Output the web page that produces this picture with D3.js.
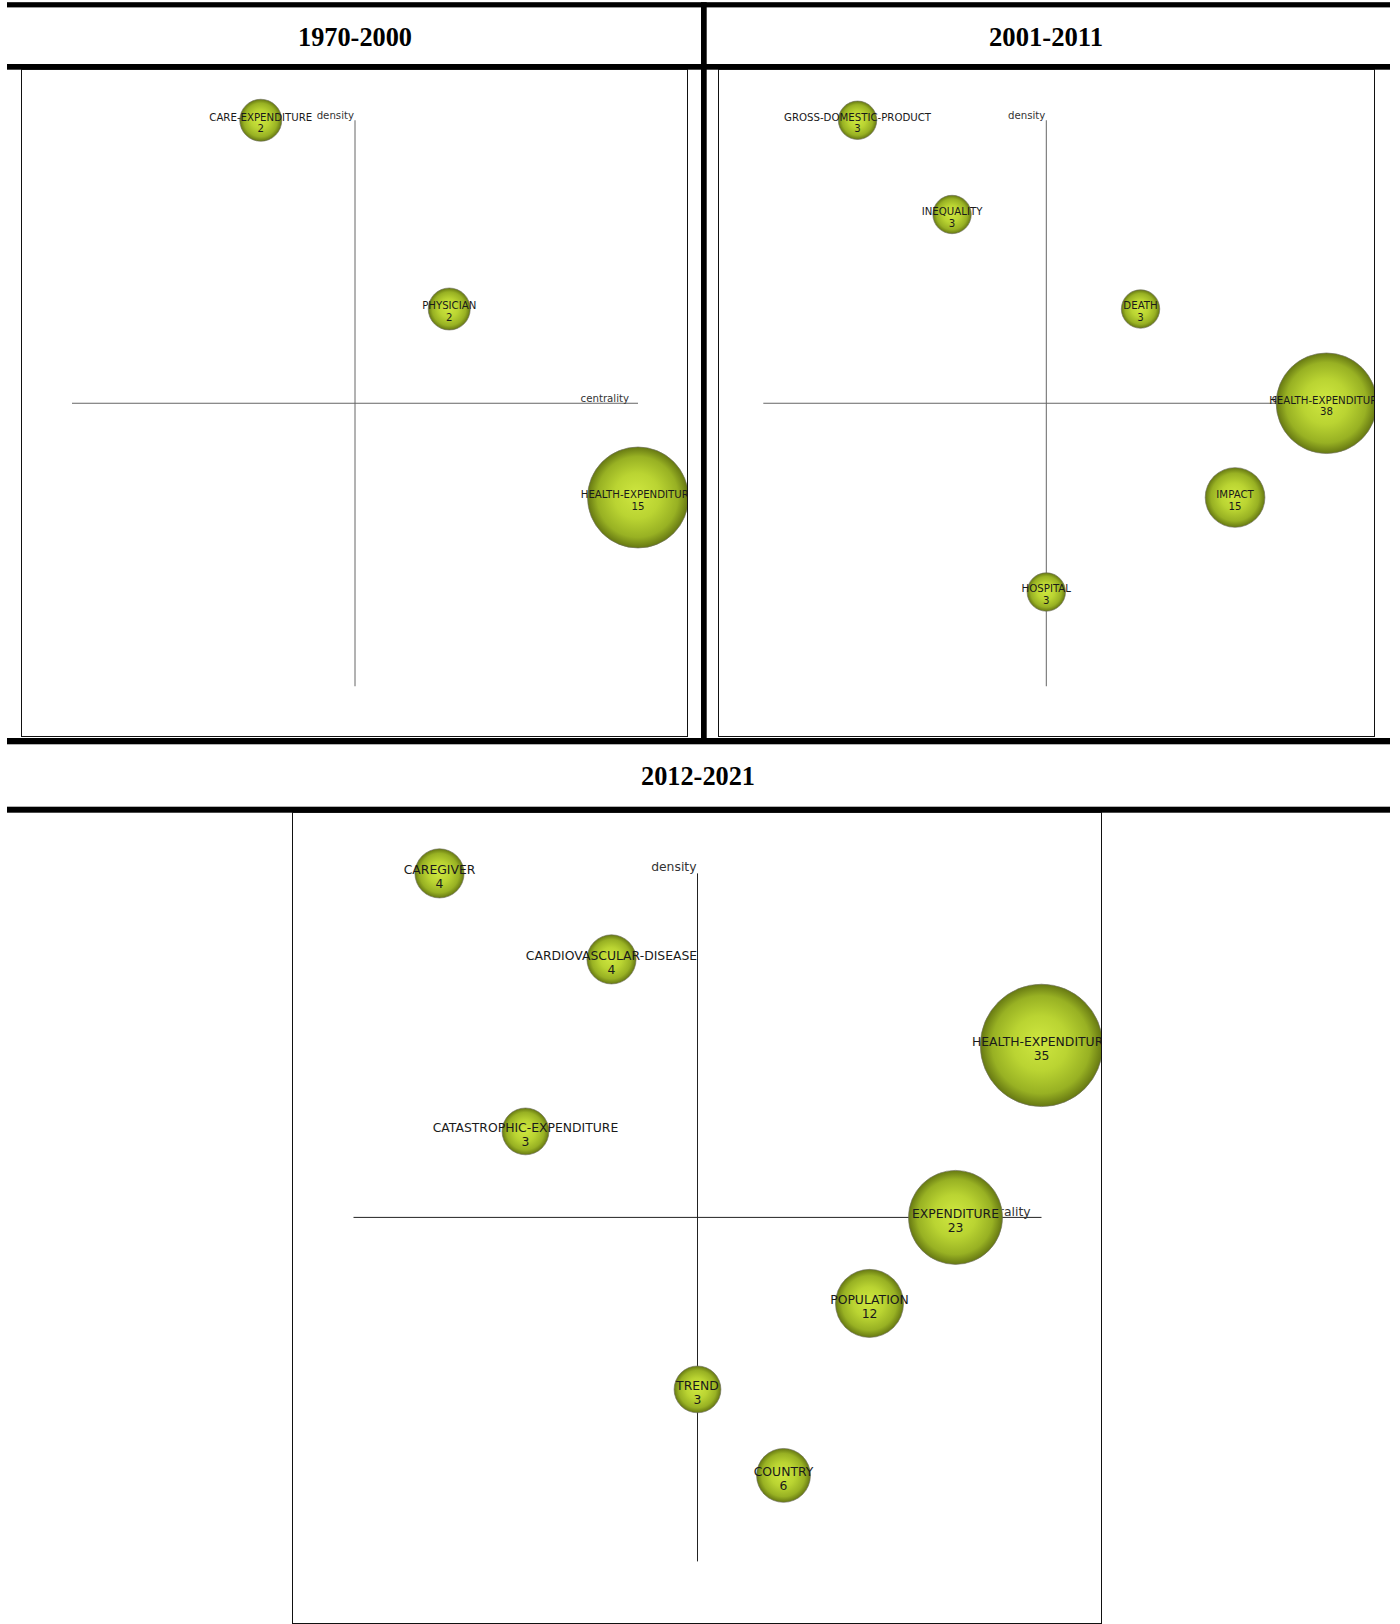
<!DOCTYPE html>
<html><head><meta charset="utf-8">
<script src="https://cdn.jsdelivr.net/npm/d3@7/dist/d3.min.js"></script>
<style>body{margin:0;background:#fff}</style>
</head><body><svg id="c" width="1400" height="1624"></svg>
<script>
// ---- data ----
const periods = ["1970-2000", "2001-2011", "2012-2021"];

const themes1 = ["CARE-EXPENDITURE", "PHYSICIAN", "HEALTH-EXPENDITURE"];
const centrality1 = [-0.333, 0.333, 1.0];
const density1 = [1.0, 0.333, -0.333];
const docs1 = [2, 2, 15];

const themes2 = ["GROSS-DOMESTIC-PRODUCT", "INEQUALITY", "DEATH", "HEALTH-EXPENDITURE", "IMPACT", "HOSPITAL"];
const centrality2 = [-0.667, -0.333, 0.333, 0.99, 0.667, 0.0];
const density2 = [1.0, 0.667, 0.333, 0.0, -0.333, -0.667];
const docs2 = [3, 3, 3, 38, 15, 3];

const themes3 = ["CAREGIVER", "CARDIOVASCULAR-DISEASE", "HEALTH-EXPENDITURE", "CATASTROPHIC-EXPENDITURE", "EXPENDITURE", "POPULATION", "TREND", "COUNTRY"];
const centrality3 = [-0.75, -0.25, 1.0, -0.5, 0.75, 0.5, 0.0, 0.25];
const density3 = [1.0, 0.75, 0.5, 0.25, 0.0, -0.25, -0.5, -0.75];
const docs3 = [4, 4, 35, 3, 23, 12, 3, 6];

const axisLabels = ["density", "centrality"];

// ---- layout (positions / sizes only) ----
const layout = [
  {box: [21.5, 69.5, 687.5, 736.5], cx: 355, cy: 403.25, half: 283, s: 1, r: [21, 50.5], title: [355, 46], axisColor: "#666"},
  {box: [718.5, 69.5, 1374.5, 736.5], cx: 1046.3, cy: 403.25, half: 283, s: 1, r: [19.2, 50.3], title: [1046, 46], axisColor: "#666"},
  {box: [292.5, 812.5, 1101.5, 1623.5], cx: 697.5, cy: 1217.4, half: 344, s: 1.2145, r: [23.4, 61.2], title: [698, 785], axisColor: "#222"}
];

const panels = [
  {themes: themes1, c: centrality1, d: density1, n: docs1},
  {themes: themes2, c: centrality2, d: density2, n: docs2},
  {themes: themes3, c: centrality3, d: density3, n: docs3}
];

const svg = d3.select("#c");
const defs = svg.append("defs");
const grad = defs.append("radialGradient").attr("id", "bub")
  .attr("cx", "50%").attr("cy", "50%").attr("r", "50%").attr("fx", "48%").attr("fy", "47%");
[[0, "#cfe740"], [0.45, "#bad432"], [0.8, "#98b123"], [1, "#667812"]].forEach(([o, c]) =>
  grad.append("stop").attr("offset", o).attr("stop-color", c));

// frame bands
const bands = [[7, 2.2, 1390, 7.4], [7, 64, 1390, 69.7], [7, 738, 1390, 744.3], [7, 806.7, 1390, 812.7], [701, 2.2, 706.7, 740]];
svg.selectAll("rect.band").data(bands).join("rect").attr("class", "band")
  .attr("x", d => d[0]).attr("y", d => d[1]).attr("width", d => d[2] - d[0]).attr("height", d => d[3] - d[1])
  .attr("fill", "#000");

// titles
svg.selectAll("text.title").data(periods).join("text").attr("class", "title")
  .attr("x", (d, i) => layout[i].title[0]).attr("y", (d, i) => layout[i].title[1])
  .attr("text-anchor", "middle")
  .attr("font-family", "'Liberation Serif','Times New Roman',serif")
  .attr("font-weight", "bold").attr("font-size", 28)
  .attr("textLength", 114).attr("lengthAdjust", "spacingAndGlyphs")
  .attr("fill", "#000").text(d => d);

panels.forEach((p, i) => {
  const L = layout[i];
  const [bx0, by0, bx1, by1] = L.box;
  const s = L.s;
  const fs = 10.2 * s;
  const x = d3.scaleLinear().domain([-1, 1]).range([L.cx - L.half, L.cx + L.half]);
  const y = d3.scaleLinear().domain([-1, 1]).range([L.cy + L.half, L.cy - L.half]);
  const r = d3.scaleLinear().domain(d3.extent(p.n)).range(L.r);

  defs.append("clipPath").attr("id", "clip" + i).append("rect")
    .attr("x", bx0).attr("y", by0).attr("width", bx1 - bx0).attr("height", by1 - by0);

  const g = svg.append("g").attr("clip-path", `url(#clip${i})`);

  // axes
  g.append("line").attr("x1", x(0)).attr("x2", x(0)).attr("y1", y(1)).attr("y2", y(-1))
    .attr("stroke", L.axisColor).attr("stroke-width", 1);
  g.append("line").attr("x1", x(-1)).attr("x2", x(1)).attr("y1", y(0)).attr("y2", y(0))
    .attr("stroke", L.axisColor).attr("stroke-width", 1);
  g.append("text").attr("x", x(0) - 1).attr("y", y(1) - 1.6 * s).attr("text-anchor", "end")
    .attr("font-family", "'DejaVu Sans',Verdana,sans-serif").attr("font-size", fs).attr("fill", "#333")
    .text(axisLabels[0]);
  g.append("text").attr("x", x(1) - 9 * s).attr("y", y(0) - 1).attr("text-anchor", "end")
    .attr("font-family", "'DejaVu Sans',Verdana,sans-serif").attr("font-size", fs).attr("fill", "#333")
    .text(axisLabels[1]);

  const idx = d3.range(p.themes.length);
  g.selectAll("circle.b").data(idx).join("circle").attr("class", "b")
    .attr("cx", k => x(p.c[k])).attr("cy", k => y(p.d[k])).attr("r", k => r(p.n[k]))
    .attr("fill", "url(#bub)").attr("stroke", "#6f705f").attr("stroke-opacity", 0.7).attr("stroke-width", 0.9);

  g.selectAll("text.lab").data(idx).join("text").attr("class", "lab")
    .attr("x", k => x(p.c[k])).attr("y", k => y(p.d[k]) + 0.3 * s)
    .attr("text-anchor", "middle").attr("font-family", "'DejaVu Sans',Verdana,sans-serif")
    .attr("font-size", fs).attr("fill", "#1a1a1a").text(k => p.themes[k]);
  g.selectAll("text.num").data(idx).join("text").attr("class", "num")
    .attr("x", k => x(p.c[k])).attr("y", k => y(p.d[k]) + 12.2 * s)
    .attr("text-anchor", "middle").attr("font-family", "'DejaVu Sans',Verdana,sans-serif")
    .attr("font-size", fs).attr("fill", "#1a1a1a").text(k => p.n[k]);

  // box
  svg.append("rect").attr("x", bx0).attr("y", by0).attr("width", bx1 - bx0).attr("height", by1 - by0)
    .attr("fill", "none").attr("stroke", "#111").attr("stroke-width", 1);
});
</script></body></html>
